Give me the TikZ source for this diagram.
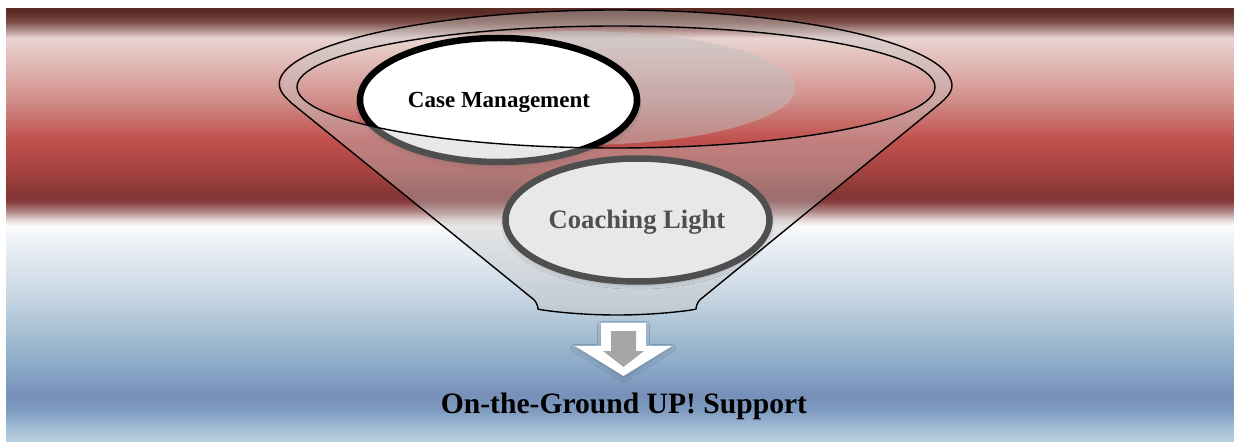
\documentclass[tikz,border=0pt]{standalone}
\usepackage{fontspec}
\setmainfont{Liberation Serif}
\usetikzlibrary{shapes.geometric,shadows.blur}

\definecolor{bandA}{HTML}{B8D0E0}
\definecolor{bandB}{HTML}{9CB8D2}
\definecolor{bandC}{HTML}{7E9BC0}
\definecolor{bandD}{HTML}{7890B8}
\definecolor{bandE}{HTML}{88A6C6}
\definecolor{bandF}{HTML}{9EBAD0}
\definecolor{bandG}{HTML}{C4D4E1}
\definecolor{bandH}{HTML}{E0E8F0}
\definecolor{bandI}{HTML}{F4F6F9}
\definecolor{bandJ}{HTML}{FAFBFC}
\definecolor{bandK}{HTML}{E6DADA}
\definecolor{bandL}{HTML}{B48C8A}
\definecolor{bandM}{HTML}{86383A}
\definecolor{bandN}{HTML}{843432}
\definecolor{bandO}{HTML}{A64442}
\definecolor{bandP}{HTML}{C0504D}
\definecolor{bandQ}{HTML}{D08E8A}
\definecolor{bandR}{HTML}{E2BCB8}
\definecolor{bandS}{HTML}{E8D4D0}
\definecolor{bandT}{HTML}{C4A8A4}
\definecolor{bandU}{HTML}{7C4E48}
\definecolor{bandV}{HTML}{5C2C26}
\definecolor{arrowgray}{HTML}{A6A6A6}

\pgfdeclareverticalshading{bandshade}{100bp}{color(0bp)=(bandA); color(25bp)=(bandA);
  color(26.85bp)=(bandB); color(28.59bp)=(bandC); color(30.32bp)=(bandD);
  color(33.22bp)=(bandE); color(36.69bp)=(bandF); color(41.32bp)=(bandG);
  color(45.95bp)=(bandH); color(49.07bp)=(bandI); color(49.88bp)=(bandJ);
  color(50.58bp)=(bandK); color(51.5bp)=(bandL); color(52.78bp)=(bandM);
  color(53.47bp)=(bandN); color(56.37bp)=(bandO); color(59.84bp)=(bandP);
  color(64.47bp)=(bandQ); color(69.1bp)=(bandR); color(71.64bp)=(bandS);
  color(72.22bp)=(bandT); color(73.5bp)=(bandU); color(74.65bp)=(bandV);
  color(75bp)=(bandV); color(100bp)=(bandV)}

\begin{document}
\begin{tikzpicture}[x=0.5pt,y=-0.5pt]
  \tikzstyle{bubble}=[ellipse,draw=black,line width=3.25pt,fill=white,inner sep=0pt,
    blur shadow={shadow blur steps=6,shadow xshift=0pt,shadow yshift=-2pt,shadow opacity=30}]
  \tikzstyle{funnelline}=[line width=0.7pt,draw=black,rounded corners=3pt]
  \tikzstyle{label}=[anchor=base,text=black,inner sep=0pt]
  \useasboundingbox (0,0) rectangle (1234,443);
  \shade[shading=bandshade] (6,9) rectangle (1234,441);
  \fill[black!25,fill opacity=0.5] (578,88) ellipse [x radius=217,y radius=57];
  \node[bubble,minimum width=138.5pt,minimum height=62pt](cm) at (498.5,100){};
  \node[bubble,minimum width=132pt,minimum height=61.5pt](cl) at (637.5,220){};
  \node[label,font=\bfseries\fontsize{11.5}{14}\selectfont](cmtext) at (499,108){Case Management};
  \node[label,font=\bfseries\fontsize{13.3}{16}\selectfont](cltext) at (637,228){Coaching Light};
  \fill[black!22,fill opacity=0.4,even odd rule]
    ([shift={(616,86)}]169.4:334 and 76) arc[start angle=169.4,end angle=370.6,x radius=334,y radius=76]
    -- (696,303) arc[start angle=0,end angle=180,x radius=79,y radius=12] -- cycle
    (616,87) ellipse [x radius=319,y radius=61];
  \path[funnelline]
    ([shift={(616,86)}]169.4:334 and 76) arc[start angle=169.4,end angle=370.6,x radius=334,y radius=76]
    -- (696,303) arc[start angle=0,end angle=180,x radius=79,y radius=12] -- cycle;
  \path[line width=0.7pt,draw=black] (616,87) ellipse [x radius=319,y radius=61];
  \fill[white,blur shadow={shadow blur steps=4,shadow xshift=0pt,shadow yshift=-1pt,shadow opacity=20}]
    (601,323) -- (646,323) -- (646,346) -- (672,346) -- (623.5,376) -- (575,346) -- (601,346) -- cycle;
  \fill[arrowgray] (611,331) -- (636,331) -- (636,351) -- (644,351) -- (623.5,367) -- (603,351) -- (611,351) -- cycle;
  \node[label,font=\bfseries\fontsize{14.8}{18}\selectfont](support) at (624,413){On-the-Ground UP! Support};
\end{tikzpicture}
\end{document}
